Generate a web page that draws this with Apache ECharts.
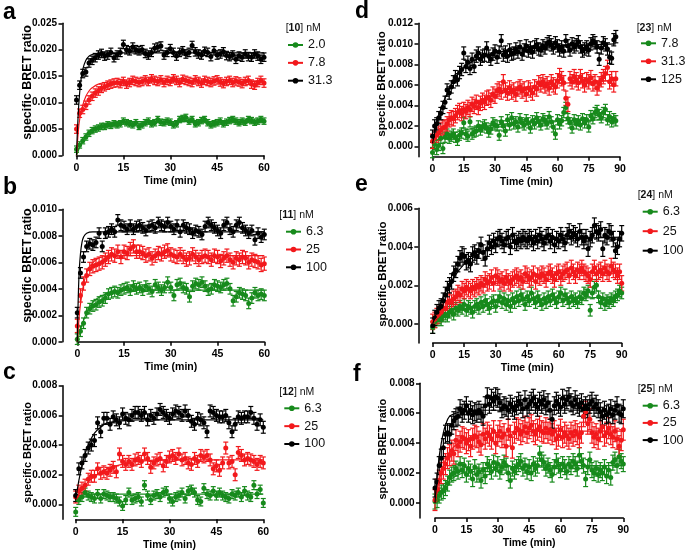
<!DOCTYPE html>
<html><head><meta charset="utf-8">
<script src="https://cdn.jsdelivr.net/npm/echarts@6/dist/echarts.min.js"></script>
<style>html,body{margin:0;padding:0;background:#fff}#c{width:685px;height:553px}</style>
</head><body><div id="c"></div>
<script>
// ---------------- DATA ----------------
const xTicks60 = [0, 15, 30, 45, 60];
const xTicks90 = [0, 15, 30, 45, 60, 75, 90];
const yTicks_a = [0, 0.005, 0.010, 0.015, 0.020, 0.025];
const yTicks_b = [0, 0.002, 0.004, 0.006, 0.008, 0.010];
const yTicks_c = [0, 0.002, 0.004, 0.006, 0.008];
const yTicks_d = [0, 0.002, 0.004, 0.006, 0.008, 0.010, 0.012];
const yTicks_e = [0, 0.002, 0.004, 0.006];
const yTicks_f = [0, 0.002, 0.004, 0.006, 0.008];

const names_a = ['2.0', '7.8', '31.3'];
const names_b = ['6.3', '25', '100'];
const names_c = ['6.3', '25', '100'];
const names_d = ['7.8', '31.3', '125'];
const names_e = ['6.3', '25', '100'];
const names_f = ['6.3', '25', '100'];
const compounds = ['10', '11', '12', '23', '24', '25'];

// sampling times (min)
const T60 = Array.from({length: 61}, (_, i) => i);
const T88 = Array.from({length: 89}, (_, i) => i);
const T90 = Array.from({length: 91}, (_, i) => i);

// typical SEM per series (green, red, black)
const err_a = [0.0006, 0.0008, 0.0008];
const err_b = [0.0004, 0.0005, 0.0004];
const err_c = [0.0003, 0.0004, 0.0004];
const err_d = [0.0005, 0.0007, 0.0006];
const err_e = [0.0003, 0.0004, 0.0004];
const err_f = [0.0005, 0.0007, 0.0006];

// panel a  [10]
const a_green = [0.0012,0.0020,0.0028,0.0035,0.0042,0.0047,0.0050,0.0052,0.0055,0.0055,
0.0058,0.0057,0.0060,0.0058,0.0060,0.0065,0.0062,0.0060,0.0058,0.0062,
0.0055,0.0058,0.0062,0.0065,0.0060,0.0062,0.0068,0.0063,0.0062,0.0065,
0.0063,0.0058,0.0060,0.0068,0.0070,0.0072,0.0065,0.0068,0.0060,0.0062,
0.0066,0.0068,0.0062,0.0058,0.0060,0.0062,0.0065,0.0060,0.0063,0.0066,
0.0068,0.0065,0.0062,0.0065,0.0063,0.0068,0.0066,0.0063,0.0065,0.0068,0.0065];
const a_red = [0.0050,0.0080,0.0087,0.0095,0.0105,0.0112,0.0118,0.0122,0.0127,0.0130,
0.0133,0.0135,0.0137,0.0138,0.0136,0.0140,0.0135,0.0138,0.0142,0.0140,
0.0138,0.0140,0.0143,0.0140,0.0145,0.0142,0.0140,0.0143,0.0138,0.0142,
0.0140,0.0145,0.0142,0.0138,0.0144,0.0142,0.0140,0.0138,0.0143,0.0140,
0.0137,0.0142,0.0140,0.0138,0.0141,0.0143,0.0139,0.0136,0.0140,0.0142,
0.0138,0.0141,0.0139,0.0136,0.0140,0.0142,0.0135,0.0133,0.0138,0.0142,0.0137];
const a_black = [0.0105,0.0133,0.0155,0.0158,0.0175,0.0180,0.0185,0.0190,0.0193,0.0188,
0.0190,0.0195,0.0185,0.0190,0.0195,0.0210,0.0200,0.0198,0.0205,0.0200,
0.0198,0.0200,0.0193,0.0190,0.0195,0.0203,0.0205,0.0207,0.0190,0.0195,
0.0202,0.0195,0.0188,0.0195,0.0198,0.0192,0.0195,0.0208,0.0196,0.0192,
0.0190,0.0197,0.0195,0.0187,0.0198,0.0190,0.0192,0.0196,0.0189,0.0187,
0.0190,0.0182,0.0188,0.0186,0.0192,0.0187,0.0186,0.0192,0.0188,0.0182,0.0186];
const fit_a_green = [[0,0],[1,0.0015],[2,0.0028],[3,0.0037],[4,0.0044],[5,0.0049],[8,0.0057],[12,0.0062],[20,0.0064],[60,0.0064]];
const fit_a_red = [[0,0],[0.5,0.0040],[1,0.0068],[2,0.0095],[3,0.0112],[4,0.0122],[5,0.0128],[7,0.0135],[10,0.0139],[15,0.0140],[60,0.0140]];
const fit_a_black = [[0,0],[0.5,0.0073],[1,0.0118],[1.5,0.0146],[2,0.0163],[3,0.0180],[4,0.0188],[5,0.0191],[7,0.0193],[10,0.0194],[60,0.0194]];

// panel b  [11]
const b_green = [0.0002,0.0008,0.0014,0.0022,0.0025,0.0027,0.0028,0.0030,0.0031,0.0033,
0.0036,0.0037,0.0038,0.0037,0.0039,0.0040,0.0041,0.0039,0.0042,0.0040,
0.0041,0.0039,0.0042,0.0040,0.0038,0.0043,0.0041,0.0039,0.0041,0.0045,
0.0041,0.0035,0.0043,0.0044,0.0041,0.0040,0.0034,0.0042,0.0044,0.0043,
0.0045,0.0042,0.0039,0.0040,0.0043,0.0042,0.0041,0.0043,0.0044,0.0040,
0.0031,0.0034,0.0037,0.0036,0.0035,0.0029,0.0033,0.0037,0.0035,0.0036,0.0035];
const b_red = [0.0012,0.0035,0.0044,0.0050,0.0055,0.0057,0.0058,0.0059,0.0060,0.0062,
0.0064,0.0066,0.0065,0.0068,0.0064,0.0068,0.0067,0.0070,0.0072,0.0068,
0.0068,0.0067,0.0065,0.0066,0.0063,0.0065,0.0067,0.0066,0.0068,0.0069,
0.0066,0.0065,0.0064,0.0066,0.0064,0.0062,0.0063,0.0066,0.0064,0.0062,
0.0064,0.0065,0.0064,0.0062,0.0065,0.0064,0.0061,0.0063,0.0065,0.0062,
0.0060,0.0063,0.0062,0.0064,0.0063,0.0060,0.0062,0.0061,0.0060,0.0058,0.0059];
const b_black = [0.0022,0.0052,0.0064,0.0072,0.0074,0.0073,0.0075,0.0082,0.0072,0.0082,
0.0083,0.0085,0.0083,0.0092,0.0088,0.0087,0.0085,0.0088,0.0085,0.0087,
0.0088,0.0086,0.0084,0.0087,0.0088,0.0086,0.0090,0.0088,0.0087,0.0090,
0.0087,0.0085,0.0088,0.0083,0.0088,0.0086,0.0085,0.0082,0.0084,0.0083,
0.0081,0.0087,0.0090,0.0088,0.0086,0.0084,0.0082,0.0088,0.0090,0.0085,
0.0083,0.0088,0.0090,0.0086,0.0084,0.0082,0.0084,0.0077,0.0082,0.0079,0.0081];
const fit_b_green = [[0,0],[1,0.0009],[2,0.0016],[3,0.0022],[5,0.0030],[8,0.0035],[12,0.0038],[20,0.0039],[60,0.0039]];
const fit_b_red = [[0,0],[0.5,0.0016],[1,0.0028],[2,0.0043],[3,0.0052],[4,0.0057],[6,0.0062],[8,0.0064],[12,0.0065],[60,0.0065]];
const fit_b_black = [[0,0],[0.5,0.0048],[1,0.0066],[1.5,0.0075],[2,0.0079],[3,0.0082],[5,0.0083],[60,0.0083]];

// panel c  [12]
const c_green = [-0.0005,0.0003,0.0005,0.0008,0.0006,0.0005,0.0004,0.0007,0.0004,0.0007,
0.0006,0.0005,0.0005,0.0004,0.0002,-0.0001,0.0003,0.0008,0.0003,0.0004,
0.0005,0.0002,0.0013,0.0006,0.0003,0.0006,0.0007,0.0005,0.0008,0.0009,
0.0004,0.0002,0.0005,0.0006,0.0008,0.0004,0.0009,0.0010,0.0008,0.0003,
0.0002,0.0011,0.0007,0.0006,0.0009,0.0006,0.0008,0.0006,0.0005,0.0004,
0.0007,0.0006,0.0008,0.0005,0.0009,0.0006,0.0005,0.0013,0.0007,0.0010,0.0001];
const c_red = [0.0005,0.0009,0.0011,0.0013,0.0017,0.0019,0.0019,0.0024,0.0021,0.0022,
0.0021,0.0023,0.0025,0.0022,0.0034,0.0029,0.0027,0.0029,0.0027,0.0030,
0.0031,0.0029,0.0034,0.0031,0.0025,0.0028,0.0030,0.0031,0.0026,0.0029,
0.0032,0.0033,0.0031,0.0034,0.0030,0.0031,0.0028,0.0027,0.0031,0.0029,
0.0033,0.0032,0.0033,0.0030,0.0024,0.0026,0.0023,0.0028,0.0038,0.0028,
0.0029,0.0020,0.0035,0.0033,0.0030,0.0031,0.0030,0.0029,0.0027,0.0029,0.0028];
const c_black = [0.0006,0.0024,0.0028,0.0033,0.0038,0.0040,0.0043,0.0055,0.0049,0.0058,
0.0058,0.0054,0.0059,0.0057,0.0055,0.0061,0.0058,0.0057,0.0060,0.0062,
0.0062,0.0060,0.0062,0.0057,0.0060,0.0058,0.0061,0.0064,0.0062,0.0060,
0.0058,0.0061,0.0063,0.0062,0.0060,0.0063,0.0060,0.0056,0.0054,0.0058,
0.0057,0.0055,0.0049,0.0063,0.0062,0.0060,0.0059,0.0059,0.0060,0.0055,
0.0049,0.0054,0.0059,0.0058,0.0059,0.0059,0.0062,0.0058,0.0054,0.0057,0.0052];
const fit_c_green = [[0,0.0002],[2,0.0006],[4,0.0007],[60,0.0007]];
const fit_c_red = [[0,0.0003],[3,0.0013],[6,0.0019],[10,0.0024],[15,0.0027],[20,0.0029],[30,0.0030],[60,0.0030]];
const fit_c_black = [[0,0.0003],[1,0.0016],[2,0.0026],[3,0.0034],[4,0.0040],[6,0.0048],[8,0.0052],[10,0.0055],[14,0.0056],[20,0.0057],[60,0.0057]];

// panel d  [23]
const d_green = [-0.0006,0.0002,-0.0003,0.0001,0.0008,-0.0002,0.0009,0.0012,0.0008,0.0010,
0.0012,0.0009,0.0006,0.0011,0.0013,0.0023,0.0012,0.0010,0.0024,0.0012,
0.0014,0.0015,0.0020,0.0016,0.0019,0.0021,0.0018,0.0014,0.0017,0.0023,
0.0021,0.0020,0.0011,0.0024,0.0020,0.0015,0.0026,0.0021,0.0028,0.0022,
0.0024,0.0019,0.0027,0.0023,0.0021,0.0026,0.0023,0.0018,0.0025,0.0022,
0.0028,0.0024,0.0021,0.0027,0.0025,0.0022,0.0029,0.0024,0.0019,0.0012,
0.0026,0.0022,0.0025,0.0033,0.0038,0.0027,0.0023,0.0018,0.0026,0.0022,
0.0025,0.0021,0.0027,0.0023,0.0026,0.0019,0.0030,0.0027,0.0033,0.0035,
0.0031,0.0028,0.0033,0.0036,0.0026,0.0029,0.0024,0.0027,0.0025];
const d_red = [0.0005,0.0008,0.0011,0.0013,0.0016,0.0018,0.0019,0.0022,0.0026,0.0028,
0.0027,0.0030,0.0033,0.0035,0.0032,0.0036,0.0034,0.0038,0.0036,0.0041,
0.0039,0.0043,0.0038,0.0042,0.0045,0.0043,0.0047,0.0048,0.0045,0.0051,
0.0049,0.0054,0.0056,0.0053,0.0063,0.0055,0.0052,0.0057,0.0053,0.0055,
0.0051,0.0056,0.0058,0.0054,0.0056,0.0051,0.0057,0.0055,0.0052,0.0058,
0.0056,0.0062,0.0060,0.0063,0.0059,0.0061,0.0057,0.0063,0.0060,0.0058,
0.0064,0.0069,0.0066,0.0062,0.0047,0.0041,0.0066,0.0063,0.0068,0.0065,
0.0062,0.0068,0.0064,0.0060,0.0065,0.0063,0.0067,0.0061,0.0063,0.0057,
0.0061,0.0065,0.0068,0.0071,0.0077,0.0063,0.0066,0.0060,0.0066];
const d_black = [0.0010,0.0020,0.0022,0.0028,0.0032,0.0038,0.0043,0.0055,0.0052,0.0058,
0.0063,0.0068,0.0065,0.0072,0.0075,0.0091,0.0078,0.0082,0.0076,0.0085,
0.0078,0.0088,0.0091,0.0085,0.0088,0.0089,0.0096,0.0088,0.0085,0.0090,
0.0093,0.0087,0.0092,0.0103,0.0089,0.0092,0.0088,0.0094,0.0090,0.0091,
0.0095,0.0092,0.0097,0.0090,0.0094,0.0098,0.0093,0.0096,0.0092,0.0097,
0.0099,0.0095,0.0094,0.0098,0.0096,0.0100,0.0102,0.0099,0.0096,0.0101,
0.0098,0.0094,0.0097,0.0093,0.0103,0.0098,0.0094,0.0100,0.0097,0.0099,
0.0102,0.0097,0.0093,0.0095,0.0097,0.0094,0.0100,0.0103,0.0101,0.0097,
0.0085,0.0096,0.0101,0.0099,0.0095,0.0087,0.0086,0.0104,0.0107];
const fit_d_green = [[0,0.0004],[5,0.0009],[10,0.0013],[20,0.0018],[30,0.0021],[45,0.0024],[60,0.0025],[88,0.0026]];
const fit_d_red = [[0,0.0003],[5,0.0018],[10,0.0029],[15,0.0036],[20,0.0042],[30,0.0050],[45,0.0057],[60,0.0061],[75,0.0063],[88,0.0064]];
const fit_d_black = [[0,0.0003],[3,0.0030],[5,0.0042],[8,0.0056],[10,0.0064],[15,0.0077],[20,0.0084],[30,0.0091],[45,0.0096],[60,0.0098],[75,0.0099],[88,0.0100]];

// panel e  [24]
const e_green = [-0.0002,0.0001,0.0002,0.0003,0.0002,0.0004,0.0005,0.0004,0.0006,0.0007,
0.0005,0.0008,0.0007,0.0009,0.0008,0.0010,0.0007,0.0009,0.0008,0.0006,
0.0009,0.0010,0.0008,0.0011,0.0009,0.0012,0.0010,0.0008,0.0011,0.0012,
0.0009,0.0012,0.0014,0.0011,0.0013,0.0010,0.0012,0.0009,0.0013,0.0011,
0.0014,0.0012,0.0015,0.0013,0.0010,0.0014,0.0012,0.0016,0.0013,0.0011,
0.0014,0.0012,0.0010,0.0013,0.0011,0.0014,0.0012,0.0015,0.0013,0.0011,
0.0014,0.0016,0.0012,0.0015,0.0013,0.0011,0.0014,0.0012,0.0013,0.0011,
0.0014,0.0013,0.0016,0.0015,0.0017,0.0007,0.0016,0.0019,0.0020,0.0014,
0.0011,0.0013,0.0010,0.0012,0.0011,0.0013,0.0012,0.0014,0.0015,0.0017,0.0016];
const e_red = [0.0001,0.0002,0.0004,0.0005,0.0006,0.0008,0.0008,0.0011,0.0012,0.0011,
0.0013,0.0014,0.0016,0.0015,0.0018,0.0017,0.0019,0.0018,0.0017,0.0019,
0.0018,0.0020,0.0019,0.0021,0.0020,0.0023,0.0021,0.0022,0.0024,0.0021,
0.0025,0.0024,0.0022,0.0023,0.0021,0.0024,0.0022,0.0021,0.0023,0.0024,
0.0025,0.0023,0.0024,0.0022,0.0026,0.0025,0.0023,0.0024,0.0026,0.0022,
0.0025,0.0024,0.0026,0.0025,0.0023,0.0026,0.0027,0.0025,0.0023,0.0026,
0.0027,0.0024,0.0026,0.0027,0.0028,0.0025,0.0029,0.0027,0.0025,0.0028,
0.0027,0.0029,0.0027,0.0026,0.0025,0.0023,0.0027,0.0029,0.0026,0.0027,
0.0028,0.0026,0.0029,0.0027,0.0026,0.0030,0.0028,0.0027,0.0025,0.0027,0.0021];
const e_black = [-0.0001,0.0003,0.0006,0.0008,0.0009,0.0012,0.0015,0.0018,0.0020,0.0022,
0.0026,0.0028,0.0031,0.0034,0.0036,0.0035,0.0032,0.0033,0.0031,0.0036,
0.0037,0.0035,0.0038,0.0041,0.0037,0.0034,0.0039,0.0042,0.0040,0.0043,
0.0041,0.0044,0.0045,0.0043,0.0041,0.0044,0.0045,0.0040,0.0046,0.0043,
0.0042,0.0044,0.0043,0.0045,0.0044,0.0043,0.0045,0.0044,0.0042,0.0045,
0.0043,0.0046,0.0044,0.0042,0.0045,0.0046,0.0043,0.0045,0.0041,0.0044,
0.0043,0.0046,0.0044,0.0042,0.0046,0.0048,0.0045,0.0047,0.0046,0.0044,
0.0048,0.0045,0.0043,0.0045,0.0039,0.0044,0.0046,0.0051,0.0048,0.0047,
0.0049,0.0039,0.0046,0.0045,0.0048,0.0047,0.0044,0.0038,0.0040,0.0044,0.0047];
const fit_e_green = [[0,0],[5,0.0003],[10,0.0006],[20,0.0009],[30,0.0011],[45,0.0012],[60,0.0013],[90,0.0014]];
const fit_e_red = [[0,0],[5,0.0007],[10,0.0013],[20,0.0019],[30,0.0022],[45,0.0024],[60,0.0026],[90,0.0027]];
const fit_e_black = [[0,0],[5,0.0014],[10,0.0024],[15,0.0031],[20,0.0035],[30,0.0040],[45,0.0043],[60,0.0044],[90,0.0045]];

// panel f  [25]
const f_green = [0.0001,0.0002,0.0005,0.0007,0.0008,0.0010,0.0013,0.0017,0.0019,0.0020,
0.0023,0.0021,0.0026,0.0022,0.0025,0.0019,0.0023,0.0021,0.0016,0.0024,
0.0019,0.0021,0.0015,0.0022,0.0018,0.0026,0.0024,0.0021,0.0027,0.0023,
0.0026,0.0021,0.0024,0.0027,0.0025,0.0020,0.0015,0.0023,0.0021,0.0024,
0.0026,0.0028,0.0023,0.0025,0.0021,0.0024,0.0020,0.0026,0.0023,0.0025,
0.0033,0.0029,0.0027,0.0023,0.0025,0.0022,0.0019,0.0024,0.0028,0.0025,
0.0022,0.0026,0.0024,0.0021,0.0026,0.0024,0.0028,0.0026,0.0023,0.0032,
0.0028,0.0025,0.0016,0.0024,0.0029,0.0022,0.0020,0.0023,0.0019,0.0022,
0.0020,0.0024,0.0018,0.0022,0.0017,0.0027,0.0029,0.0025,0.0031,0.0028,0.0026];
const f_red = [0.0002,0.0009,0.0015,0.0020,0.0023,0.0026,0.0030,0.0032,0.0035,0.0033,
0.0042,0.0038,0.0041,0.0044,0.0043,0.0040,0.0042,0.0038,0.0043,0.0045,
0.0044,0.0041,0.0039,0.0046,0.0043,0.0047,0.0045,0.0043,0.0048,0.0040,
0.0045,0.0048,0.0044,0.0046,0.0038,0.0049,0.0045,0.0037,0.0047,0.0050,
0.0049,0.0046,0.0048,0.0051,0.0047,0.0050,0.0052,0.0048,0.0046,0.0049,
0.0051,0.0048,0.0047,0.0050,0.0047,0.0049,0.0046,0.0048,0.0043,0.0045,
0.0049,0.0044,0.0047,0.0045,0.0043,0.0047,0.0045,0.0048,0.0046,0.0044,
0.0047,0.0058,0.0061,0.0053,0.0056,0.0047,0.0044,0.0046,0.0043,0.0048,
0.0051,0.0045,0.0047,0.0050,0.0046,0.0044,0.0048,0.0043,0.0038,0.0042,0.0049];
const f_black = [0.0010,0.0014,0.0025,0.0030,0.0037,0.0046,0.0047,0.0046,0.0052,0.0055,
0.0057,0.0058,0.0063,0.0060,0.0062,0.0065,0.0060,0.0062,0.0059,0.0061,
0.0060,0.0062,0.0060,0.0058,0.0065,0.0071,0.0066,0.0070,0.0068,0.0071,
0.0070,0.0067,0.0063,0.0065,0.0064,0.0062,0.0066,0.0064,0.0062,0.0065,
0.0068,0.0066,0.0063,0.0069,0.0064,0.0066,0.0068,0.0070,0.0066,0.0064,
0.0068,0.0066,0.0069,0.0065,0.0067,0.0062,0.0056,0.0065,0.0068,0.0066,
0.0064,0.0070,0.0066,0.0069,0.0071,0.0067,0.0065,0.0069,0.0066,0.0064,
0.0067,0.0063,0.0065,0.0063,0.0066,0.0068,0.0064,0.0066,0.0063,0.0061,
0.0058,0.0062,0.0059,0.0060,0.0063,0.0059,0.0062,0.0065,0.0060,0.0059,0.0063];
const fit_f_green = [[0,0],[3,0.0008],[6,0.0014],[10,0.0018],[15,0.0021],[20,0.0023],[30,0.0024],[60,0.0025],[90,0.0025]];
const fit_f_red = [[0,0],[2,0.0015],[4,0.0025],[6,0.0032],[8,0.0036],[12,0.0041],[20,0.0045],[30,0.0047],[60,0.0048],[90,0.0048]];
const fit_f_black = [[0,0],[1,0.0018],[2,0.0031],[3,0.0040],[4,0.0047],[5,0.0052],[7,0.0058],[10,0.0060],[15,0.0062],[90,0.0062]];

// ---------------- LAYOUT / STYLE ----------------
const FONT = 'Liberation Sans, Arial, Helvetica, sans-serif';
const COLORS = ['#178a1c', '#f2191c', '#000000'];

const panels = [
  {letter:'a', cmpd:compounds[0], names:names_a, data:[a_green,a_red,a_black], fits:[fit_a_green,fit_a_red,fit_a_black], err:err_a, times:T60,
   xMax:60, xTicks:xTicks60, yMin:0, yMax:0.025, yTicks:yTicks_a,
   grid:[76.5,23.3,187.5,132.2], yOff:14, yName:12.5, nameGap:28.2, nameShift:14, letterXY:[3,13], titleXY:[285.7,28.3], legXY:[287,38], legGap:3.85},
  {letter:'b', cmpd:compounds[1], names:names_b, data:[b_green,b_red,b_black], fits:[fit_b_green,fit_b_red,fit_b_black], err:err_b, times:T60,
   xMax:60, xTicks:xTicks60, yMin:0, yMax:0.010, yTicks:yTicks_b,
   grid:[77.3,209.3,187,132.5], yOff:14.8, yName:12.5, nameGap:28, nameShift:20, letterXY:[3,188], titleXY:[279.3,215], legXY:[285,224.7], legGap:3.8},
  {letter:'c', cmpd:compounds[2], names:names_c, data:[c_green,c_red,c_black], fits:[fit_c_green,fit_c_red,fit_c_black], err:err_c, times:T60,
   xMax:60, xTicks:xTicks60, yMin:-0.001, yMax:0.008, yTicks:yTicks_c,
   grid:[75.7,385.7,187.6,133.6], yOff:13, yName:11, nameGap:28.9, nameShift:0, letterXY:[3,373], titleXY:[279.3,391.7], legXY:[283.3,401.3], legGap:3.85},
  {letter:'d', cmpd:compounds[3], names:names_d, data:[d_green,d_red,d_black], fits:[fit_d_green,fit_d_red,fit_d_black], err:err_d, times:T88,
   xMax:90, xTicks:xTicks90, yMin:-0.001, yMax:0.012, yTicks:yTicks_d,
   grid:[432.5,23.3,187.5,133.4], yOff:14, yName:11.5, nameGap:31, nameShift:12, letterXY:[355,11.3], titleXY:[636.7,28], legXY:[640,36.3], legGap:4},
  {letter:'e', cmpd:compounds[4], names:names_e, data:[e_green,e_red,e_black], fits:[fit_e_green,fit_e_red,fit_e_black], err:err_e, times:T90,
   xMax:90, xTicks:xTicks90, yMin:-0.001, yMax:0.006, yTicks:yTicks_e,
   grid:[432.7,208.3,189,134.7], yOff:14.4, yName:11.5, nameGap:29.9, nameShift:3, letterXY:[355,184.7], titleXY:[637.7,195], legXY:[641.7,204.7], legGap:5.5},
  {letter:'f', cmpd:compounds[5], names:names_f, data:[f_green,f_red,f_black], fits:[fit_f_green,fit_f_red,fit_f_black], err:err_f, times:T90,
   xMax:90, xTicks:xTicks90, yMin:-0.001, yMax:0.008, yTicks:yTicks_f,
   grid:[435,383.3,188.3,134.7], yOff:15, yName:11, nameGap:31.2, nameShift:3, letterXY:[353,374.7], titleXY:[637.7,389], legXY:[641.7,398.7], legGap:3.2}
];

function errRenderer(color) {
  return function (params, api) {
    const x = api.value(0), y = api.value(1), e = api.value(2);
    const lo = api.coord([x, y - e]);
    const hi = api.coord([x, y + e]);
    const w = 2.5;
    const st = {stroke: color, lineWidth: 1.2};
    return {type: 'group', children: [
      {type: 'line', shape: {x1: lo[0], y1: lo[1], x2: hi[0], y2: hi[1]}, style: st},
      {type: 'line', shape: {x1: hi[0] - w, y1: hi[1], x2: hi[0] + w, y2: hi[1]}, style: st},
      {type: 'line', shape: {x1: lo[0] - w, y1: lo[1], x2: lo[0] + w, y2: lo[1]}, style: st}
    ]};
  };
}

const grids = [], xAxes = [], yAxes = [], series = [], legends = [], graphics = [];
const axisLineStyle = {color: '#000', width: 1.5};
panels.forEach((p, i) => {
  grids.push({left: p.grid[0], top: p.grid[1], width: p.grid[2], height: p.grid[3], containLabel: false});
  xAxes.push({
    gridIndex: i, type: 'value', min: 0, max: p.xMax, interval: 15,
    axisLine: {show: true, onZero: false, lineStyle: axisLineStyle},
    axisTick: {show: true, length: 4, lineStyle: axisLineStyle, customValues: p.xTicks},
    axisLabel: {fontSize: 10.5, fontWeight: 'bold', color: '#000', fontFamily: FONT, margin: 7, customValues: p.xTicks},
    splitLine: {show: false},
    name: 'Time (min)', nameLocation: 'middle', nameGap: 20, nameMoveOverlap: false,
    nameTextStyle: {fontSize: 10.5, fontWeight: 'bold', color: '#000', fontFamily: FONT}
  });
  yAxes.push({
    gridIndex: i, type: 'value', min: p.yMin, max: p.yMax, offset: p.yOff,
    axisLine: {show: true, onZero: false, lineStyle: axisLineStyle},
    axisTick: {show: true, length: 4, lineStyle: axisLineStyle, customValues: p.yTicks},
    axisLabel: {fontSize: 10, fontWeight: 'bold', color: '#000', fontFamily: FONT, margin: 5.5,
      customValues: p.yTicks, formatter: v => v.toFixed(3)},
    splitLine: {show: false},
    name: 'specific BRET ratio', nameLocation: 'middle', nameRotate: 90, nameGap: p.nameGap, nameMoveOverlap: false,
    nameTextStyle: {fontSize: p.yName, fontWeight: 'bold', color: '#000', fontFamily: FONT, padding: [0, 0, 0, p.nameShift]}
  });
  for (let k = 0; k < 3; k++) {
    const col = COLORS[k];
    const vals = p.data[k];
    const pts = vals.map((v, j) => [p.times[j], v, p.err[k]]);
    series.push({type: 'custom', xAxisIndex: i, yAxisIndex: i, data: pts, renderItem: errRenderer(col),
      encode: {x: 0, y: 1}, silent: true, clip: false});
    series.push({type: 'scatter', xAxisIndex: i, yAxisIndex: i, data: pts.map(d => [d[0], d[1]]),
      symbol: 'circle', symbolSize: 5, itemStyle: {color: col, opacity: 1}, silent: true});
    series.push({type: 'line', name: p.names[k], xAxisIndex: i, yAxisIndex: i, data: p.fits[k],
      smooth: 0.4, showSymbol: false, symbol: 'none', lineStyle: {color: col, width: 1.2},
      itemStyle: {color: col}, silent: true});
  }
  legends.push({
    orient: 'vertical', left: p.legXY[0], top: p.legXY[1], padding: 0, itemGap: p.legGap,
    itemWidth: 15, itemHeight: 7, selectedMode: false,
    textStyle: {fontSize: 12.5, color: '#111', fontFamily: FONT, lineHeight: 14},
    data: p.names.map((n, k) => ({name: n, itemStyle: {color: COLORS[k]},
      lineStyle: {color: COLORS[k], width: 2, opacity: 1}}))
  });
  graphics.push({type: 'text', x: p.letterXY[0], y: p.letterXY[1],
    style: {text: p.letter, fill: '#000', fontSize: 23, fontWeight: 'bold', fontFamily: FONT, verticalAlign: 'middle'}});
  graphics.push({type: 'text', x: p.titleXY[0], y: p.titleXY[1],
    style: {text: '[{b|' + p.cmpd + '}] nM', fill: '#111', fontSize: 10.5, fontFamily: FONT, verticalAlign: 'middle',
      rich: {b: {fontWeight: 'bold', fontSize: 10.5, fontFamily: FONT, fill: '#111'}}}});
});

const chart = echarts.init(document.getElementById('c'), null, {renderer: 'canvas'});
chart.setOption({
  animation: false,
  backgroundColor: '#fff',
  textStyle: {fontFamily: FONT},
  grid: grids, xAxis: xAxes, yAxis: yAxes, series: series, legend: legends, graphic: graphics
});
</script>
</body></html>
